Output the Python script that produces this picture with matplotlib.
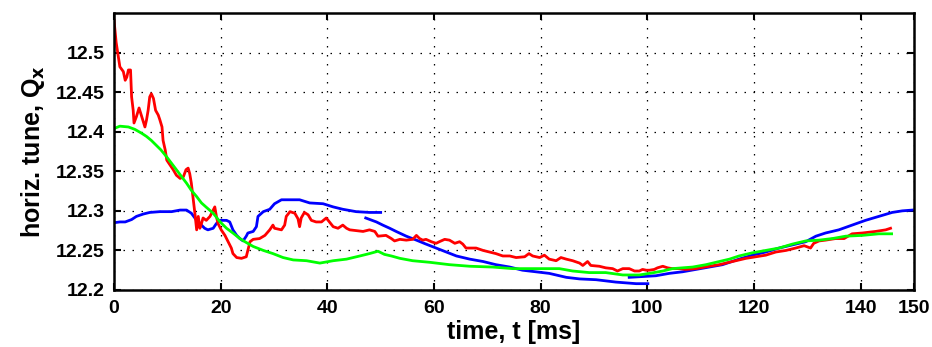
import matplotlib
matplotlib.use("Agg")
import matplotlib.pyplot as plt

plt.rcParams['font.family'] = ['Liberation Sans', 'DejaVu Sans']
plt.rcParams['font.weight'] = 'bold'

# ---- data ----
red_t = [0, 0.4, 0.8, 1.1, 1.75, 2.1, 2.4, 2.7, 3.1, 3.3,
         3.6, 3.75, 4.2, 4.7, 5.2, 5.8, 6.1, 6.4, 6.7, 7.0,
         7.4, 7.8, 8.3, 8.6, 9.0, 9.2, 9.6, 9.9, 10.5, 11.1,
         11.7, 12.4, 13.0, 13.5, 13.9, 14.2, 14.5, 14.8, 15.2, 15.5,
         15.8, 16.1, 16.4, 16.7, 17.3, 18.0, 18.6, 18.9, 19.2, 19.5,
         20.1, 20.8, 21.4, 22.0, 22.3, 23.0, 23.9, 24.8, 25.1, 25.5,
         26.1, 27.3, 28.3, 29.2, 29.8, 30.1, 31.4, 32.0, 32.3, 33.0,
         33.9, 34.5, 34.8, 35.1, 35.7, 36.4, 37.0, 37.9, 38.9, 39.8,
         40.4, 41.1, 42.0, 42.9, 43.6, 44.2, 45.4, 46.7, 47.9, 48.9,
         49.5, 51.0, 52.0, 52.6, 53.6, 54.8, 56.0, 56.7, 57.3, 57.9,
         58.5, 59.5, 60.4, 61.0, 62.0, 62.9, 63.9, 64.8, 65.4, 66.0,
         67.9, 69.2, 70.4, 71.6, 72.9, 74.2, 75.4, 77.0, 77.8, 78.5,
         79.8, 80.7, 81.6, 82.9, 83.8, 84.8, 86.0, 87.3, 87.9, 88.8,
         89.4, 91.0, 92.2, 93.5, 94.4, 95.4, 96.6, 97.6, 98.5, 99.1,
         99.8, 100.4, 101.3, 101.9, 102.9, 103.8, 104.7, 106.0, 107.2, 109.1,
         111.6, 113.5, 114.7, 116.6, 118.5, 120.3, 122.2, 124.1, 126.0, 127.8,
         129.4, 130.6, 131.2, 132.2, 133.4, 135.3, 136.9, 138.4, 140.3, 142.8,
         144.7, 145.6]
red_q = [12.541, 12.513, 12.495, 12.482, 12.476, 12.465, 12.469, 12.478, 12.478, 12.444,
         12.427, 12.411, 12.419, 12.430, 12.419, 12.406, 12.415, 12.427, 12.444, 12.448,
         12.442, 12.427, 12.421, 12.415, 12.406, 12.389, 12.377, 12.364, 12.358, 12.352,
         12.345, 12.341, 12.343, 12.352, 12.354, 12.347, 12.335, 12.318, 12.295, 12.276,
         12.293, 12.278, 12.284, 12.291, 12.288, 12.293, 12.301, 12.305, 12.293, 12.284,
         12.276, 12.269, 12.261, 12.253, 12.246, 12.241, 12.240, 12.242, 12.250, 12.261,
         12.264, 12.265, 12.269, 12.276, 12.282, 12.278, 12.276, 12.282, 12.293, 12.299,
         12.297, 12.290, 12.280, 12.291, 12.298, 12.295, 12.288, 12.286, 12.286, 12.291,
         12.286, 12.280, 12.278, 12.282, 12.278, 12.276, 12.275, 12.274, 12.276, 12.274,
         12.268, 12.269, 12.265, 12.262, 12.264, 12.263, 12.264, 12.269, 12.265, 12.263,
         12.264, 12.261, 12.259, 12.261, 12.264, 12.263, 12.259, 12.261, 12.258, 12.253,
         12.253, 12.250, 12.248, 12.246, 12.243, 12.243, 12.241, 12.242, 12.246, 12.243,
         12.241, 12.244, 12.239, 12.237, 12.241, 12.239, 12.237, 12.234, 12.231, 12.236,
         12.231, 12.230, 12.228, 12.227, 12.224, 12.227, 12.227, 12.224, 12.224, 12.226,
         12.225, 12.225, 12.226, 12.228, 12.230, 12.228, 12.227, 12.227, 12.226, 12.227,
         12.230, 12.232, 12.234, 12.237, 12.240, 12.242, 12.244, 12.248, 12.250, 12.253,
         12.256, 12.253, 12.259, 12.262, 12.263, 12.265, 12.265, 12.271, 12.272, 12.274,
         12.276, 12.278]

green_t = [0, 1.1, 2.7, 3.9, 5.2, 6.1, 7.0, 7.9, 8.8, 9.9,
           10.8, 11.7, 12.7, 13.6, 14.5, 15.5, 16.4, 17.4, 18.6, 19.9,
           21.1, 22.3, 23.6, 24.8, 26.1, 28.0, 29.8, 31.7, 33.6, 36.1,
           38.6, 41.1, 43.6, 46.1, 47.9, 49.5, 50.7, 52.0, 53.6, 56.0,
           59.2, 62.9, 66.7, 71.0, 74.8, 79.1, 83.5, 86.0, 89.1, 92.2,
           95.4, 98.5, 100.4, 102.9, 104.7, 108.5, 111.0, 113.5, 115.4, 117.2,
           119.7, 122.2, 124.7, 127.2, 129.7, 132.2, 134.7, 137.2, 140.3, 143.4,
           145.8]
green_q = [12.404, 12.407, 12.406, 12.403, 12.398, 12.394, 12.389, 12.383, 12.377, 12.368,
           12.360, 12.352, 12.343, 12.335, 12.326, 12.318, 12.310, 12.304, 12.297, 12.286,
           12.278, 12.272, 12.265, 12.260, 12.255, 12.250, 12.246, 12.241, 12.238, 12.237,
           12.234, 12.237, 12.239, 12.243, 12.246, 12.249, 12.245, 12.243, 12.240, 12.237,
           12.235, 12.232, 12.230, 12.229, 12.227, 12.227, 12.227, 12.224, 12.222, 12.222,
           12.219, 12.219, 12.221, 12.224, 12.227, 12.229, 12.232, 12.236, 12.239, 12.243,
           12.247, 12.250, 12.253, 12.258, 12.262, 12.263, 12.265, 12.268, 12.269, 12.271,
           12.271]

blue_a_t = [0, 1.1, 2.1, 3.3, 4.2, 5.5, 6.7, 8.6, 10.8, 12.4,
            13.6, 14.5, 15.5, 16.1, 17.0, 17.6, 18.6, 19.2, 19.9, 21.1,
            21.7, 22.3, 23.0, 23.6, 24.2, 24.8, 25.1, 26.1, 26.7, 27.0,
            28.0, 29.2, 30.1, 31.4, 33.6, 34.8, 36.7, 39.2, 41.1, 42.9,
            45.4, 47.9, 50.0]
blue_a_q = [12.285, 12.286, 12.286, 12.289, 12.293, 12.296, 12.298, 12.299, 12.299, 12.301,
            12.301, 12.297, 12.288, 12.284, 12.278, 12.276, 12.278, 12.284, 12.288, 12.288,
            12.286, 12.276, 12.269, 12.265, 12.262, 12.268, 12.272, 12.274, 12.280, 12.293,
            12.299, 12.302, 12.309, 12.314, 12.314, 12.314, 12.310, 12.309, 12.305, 12.302,
            12.299, 12.298, 12.298]

blue_b_t = [47.2, 49.2, 50.4, 51.7, 52.9, 54.8, 56.7, 58.5, 60.4, 62.3,
            64.2, 66.7, 69.2, 71.6, 74.2, 76.6, 79.1, 81.6, 84.8, 87.3,
            90.4, 94.1, 97.9, 100.1]
blue_b_q = [12.291, 12.286, 12.282, 12.278, 12.274, 12.268, 12.263, 12.258, 12.253, 12.248,
            12.243, 12.239, 12.236, 12.232, 12.229, 12.225, 12.223, 12.221, 12.216, 12.214,
            12.213, 12.210, 12.208, 12.208]

blue_c_t = [96.6, 99.1, 101.6, 104.1, 106.6, 109.1, 111.6, 114.1, 117.2, 119.7,
            122.2, 124.7, 127.2, 129.7, 131.6, 133.4, 135.9, 138.4, 140.9, 143.4,
            145.9, 147.8, 149.7]
blue_c_q = [12.216, 12.217, 12.218, 12.221, 12.223, 12.226, 12.229, 12.232, 12.239, 12.244,
            12.248, 12.253, 12.257, 12.261, 12.268, 12.272, 12.276, 12.282, 12.288, 12.293,
            12.298, 12.300, 12.301]

x_ticks = [0, 20, 40, 60, 80, 100, 120, 140, 150]
x_tick_labels = ['0', '20', '40', '60', '80', '100', '120', '140', '150']
y_ticks = [12.2, 12.25, 12.3, 12.35, 12.4, 12.45, 12.5]
y_tick_labels = ['12.2', '12.25', '12.3', '12.35', '12.4', '12.45', '12.5']

# ---- figure ----
fig = plt.figure(figsize=(9.32, 3.47), dpi=100)
ax = fig.add_axes([114/932, 1-290/347, 800/932, 277/347])

lw = 2.0
for t, q in [(blue_a_t, blue_a_q), (blue_b_t, blue_b_q), (blue_c_t, blue_c_q)]:
    ax.plot(t, q, color='#0000FF', lw=lw)
ax.plot(red_t, red_q, color='#FF0000', lw=lw)
ax.plot(green_t, green_q, color='#00FF00', lw=lw)

ax.set_xlim(0, 150)
ax.set_ylim(12.2, 12.55)
ax.set_xticks(x_ticks)
ax.set_xticklabels(x_tick_labels)
ax.set_yticks(y_ticks)
ax.set_yticklabels(y_tick_labels)

ax.grid(True, color='black', linestyle=(0, (1.2, 6)), lw=0.9)
ax.tick_params(direction='in', top=True, right=True, length=5, width=1.5,
               labelsize=14, pad=7)
for s in ax.spines.values():
    s.set_linewidth(1.8)

ax.set_xlabel('time, t [ms]', fontsize=18, fontweight='bold', labelpad=2)
ax.set_ylabel('horiz. tune, Q$_\\mathbf{x}$', fontsize=18, fontweight='bold', labelpad=6)

fig.savefig('out.png', dpi=100)
